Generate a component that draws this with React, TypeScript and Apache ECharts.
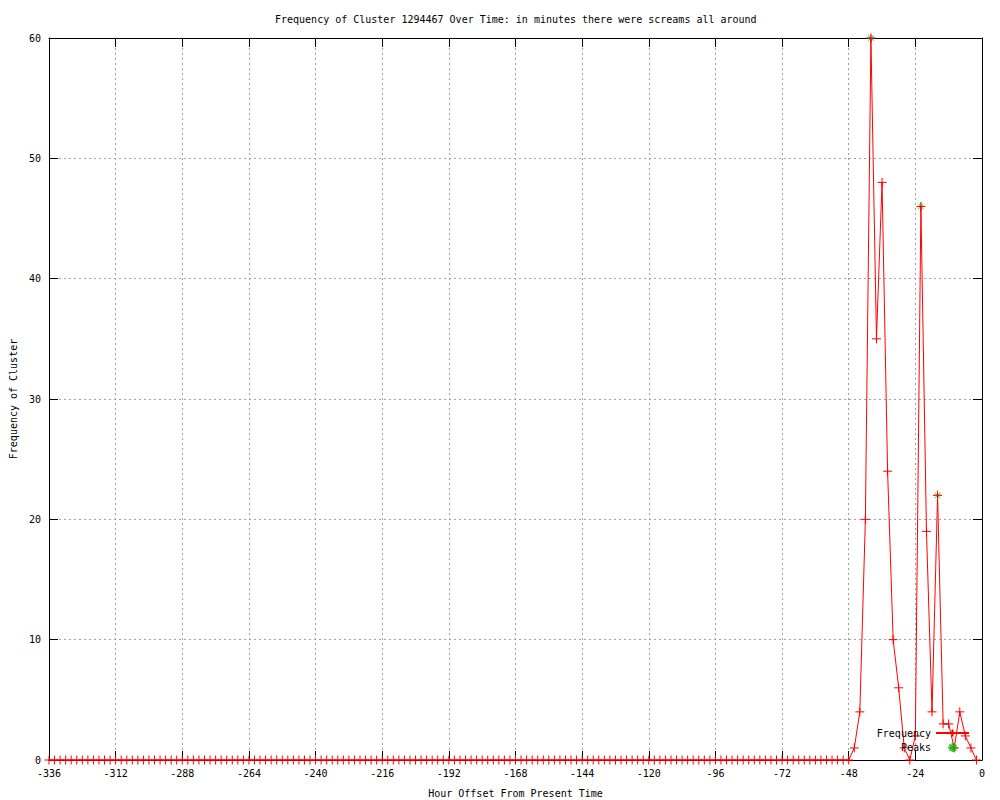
import React, { useEffect, useRef } from "react";
import * as echarts from "echarts";

const titleText = "Frequency of Cluster 1294467 Over Time: in minutes there were screams all around";
const xAxisName = "Hour Offset From Present Time";
const yAxisName = "Frequency of Cluster";

// hours -336 .. -50 are all zero; values below are for -48 .. -2
const leadingZeroHours: number[] = [];
for (let h = -336; h < -48; h += 2) leadingZeroHours.push(h);

const recentHours = [-48, -46, -44, -42, -40, -38, -36, -34, -32, -30, -28, -26, -24, -22, -20, -18, -16, -14, -12, -10, -8, -6, -4, -2];
const recentValues = [0, 1, 4, 20, 60, 35, 48, 24, 10, 6, 1, 0, 2, 46, 19, 4, 22, 3, 3, 1, 4, 2, 1, 0];

const peakHours = [-40, -22, -16, -10];
const peakValues = [60, 46, 22, 1];

const FONT = "DejaVu Sans Mono";

export default function App() {
  const ref = useRef<HTMLDivElement>(null);
  useEffect(() => {
    if (!ref.current) return;
    const chart = echarts.init(ref.current, null, { renderer: "svg" });
    const freqData: [number, number][] = [
      ...leadingZeroHours.map((h) => [h, 0] as [number, number]),
      ...recentHours.map((h, i) => [h, recentValues[i]] as [number, number]),
    ];
    const peakData = peakHours.map((h, i) => [h, peakValues[i]]);
    const plus = "path://M5,0 L5,10 M0,5 L10,5";
    const star = "path://M5,0 L5,10 M0,5 L10,5 M1.5,1.5 L8.5,8.5 M8.5,1.5 L1.5,8.5";
    const gridLine = { show: true, lineStyle: { color: "#a0a0a0", type: [2, 3] as any, width: 1 } };
    const axisLine = { show: true, onZero: false, lineStyle: { color: "#000", width: 1 } };
    const tick = { show: true, inside: true, length: 9, lineStyle: { color: "#000", width: 1 } };
    chart.setOption({
      animation: false,
      backgroundColor: "#fff",
      textStyle: { fontFamily: FONT },
      title: {
        text: titleText,
        left: 270,
        top: 9,
        textStyle: { fontFamily: FONT, fontSize: 10, fontWeight: "normal", color: "#000" },
      },
      grid: { left: 49, right: 18, top: 38, bottom: 40, outerBoundsMode: "none", containLabel: false } as any,
      legend: {
        orient: "vertical",
        align: "right",
        right: 25,
        top: 723,
        itemWidth: 33,
        itemHeight: 9,
        itemGap: 4,
        textStyle: { fontFamily: FONT, fontSize: 10, color: "#000" },
        data: ["Frequency", "Peaks"],
      },
      xAxis: [
        {
          type: "value",
          min: -336,
          max: 0,
          interval: 24,
          position: "bottom",
          axisLine,
          axisTick: tick,
          splitLine: gridLine,
          axisLabel: { fontFamily: FONT, fontSize: 10, color: "#000", margin: 8 },
          name: xAxisName,
          nameLocation: "middle",
          nameGap: 28,
          nameTextStyle: { fontFamily: FONT, fontSize: 10, color: "#000" },
        },
        {
          type: "value",
          min: -336,
          max: 0,
          interval: 24,
          position: "top",
          axisLine,
          axisTick: tick,
          splitLine: { show: false },
          axisLabel: { show: false },
        },
      ],
      yAxis: [
        {
          type: "value",
          min: 0,
          max: 60,
          interval: 10,
          position: "left",
          axisLine,
          axisTick: tick,
          splitLine: gridLine,
          axisLabel: { fontFamily: FONT, fontSize: 10, color: "#000", margin: 8 },
          name: yAxisName,
          nameLocation: "middle",
          nameGap: 31,
          nameRotate: 90,
          nameTextStyle: { fontFamily: FONT, fontSize: 10, color: "#000" },
        },
        {
          type: "value",
          min: 0,
          max: 60,
          interval: 10,
          position: "right",
          axisLine,
          axisTick: tick,
          splitLine: { show: false },
          axisLabel: { show: false },
        },
      ],
      series: [
        {
          name: "Frequency",
          type: "line",
          data: freqData,
          symbol: plus,
          symbolSize: 9,
          showAllSymbol: true,
          lineStyle: { color: "#ff0000", width: 1 },
          itemStyle: { color: "#ff0000", borderColor: "#ff0000", borderWidth: 1 },
          emphasis: { disabled: true },
          z: 3,
        },
        {
          name: "Peaks",
          type: "scatter",
          data: peakData,
          symbol: star,
          symbolSize: 8,
          itemStyle: { color: "#00c000", borderColor: "#00c000", borderWidth: 1 },
          emphasis: { disabled: true },
          z: 2,
        },
      ],
    });
    return () => chart.dispose();
  }, []);
  return (
    <div
      ref={ref}
      style={{ position: "fixed", left: 0, top: 0, width: 1000, height: 800 }}
    />
  );
}
